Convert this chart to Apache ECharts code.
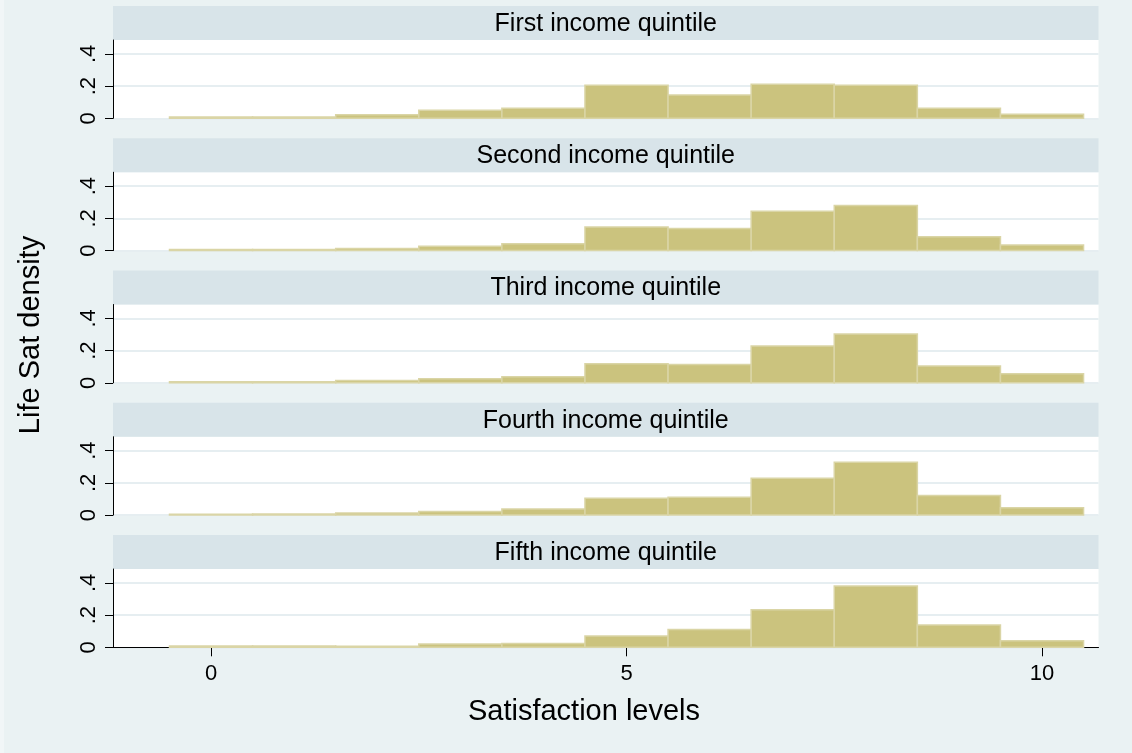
<!DOCTYPE html>
<html>
<head>
<meta charset="utf-8">
<script src="https://cdn.jsdelivr.net/npm/echarts@6/dist/echarts.min.js"></script>
<style>
html,body{margin:0;padding:0;background:#eaf2f3;}
#chart{width:1132px;height:753px;}
</style>
</head>
<body>
<div id="chart"></div>
<script>
// ---- data ----
const bins = [0, 1, 2, 3, 4, 5, 6, 7, 8, 9, 10];
const panelTitles = ["First income quintile", "Second income quintile", "Third income quintile", "Fourth income quintile", "Fifth income quintile"];
const q1 = [0.008, 0.008, 0.022, 0.050, 0.063, 0.205, 0.144, 0.211, 0.205, 0.062, 0.025];
const q2 = [0.006, 0.006, 0.012, 0.027, 0.042, 0.146, 0.137, 0.244, 0.280, 0.085, 0.035];
const q3 = [0.007, 0.007, 0.014, 0.025, 0.037, 0.118, 0.113, 0.229, 0.303, 0.105, 0.056];
const q4 = [0.005, 0.006, 0.012, 0.022, 0.037, 0.105, 0.110, 0.229, 0.328, 0.122, 0.045];
const q5 = [0.008, 0.008, 0.006, 0.021, 0.023, 0.070, 0.110, 0.233, 0.380, 0.139, 0.041];
const xTicks = [0, 5, 10];
const yTicks = [0, 0.2, 0.4];
const xTitle = "Satisfaction levels";
const yTitle = "Life Sat density";

// ---- layout ----
const series = [q1, q2, q3, q4, q5];
const FONT = "'Liberation Sans', Arial, sans-serif";
const plotLeft = 113, plotRight = 1098.5;
const pitch = 132.25, headTop0 = 6, headH = 34, plotH = 78.3;
const binW = 1;

const chart = echarts.init(document.getElementById('chart'), null, {renderer: 'canvas'});
const grids = [], xAxes = [], yAxes = [], seriesOpt = [], graphics = [];

series.forEach((vals, k) => {
  const headTop = headTop0 + pitch * k;
  const plotTop = headTop + headH;
  const isLast = k === series.length - 1;
  grids.push({left: plotLeft, width: plotRight - plotLeft, top: plotTop, height: plotH,
    show: true, backgroundColor: '#ffffff', borderWidth: 0});
  xAxes.push({
    type: 'value', gridIndex: k, min: -1.18, max: 10.68,
    show: isLast,
    axisLine: {show: true, onZero: false, lineStyle: {color: '#000', width: 1}},
    axisTick: {show: true, length: 9, customValues: xTicks, lineStyle: {color: '#000'}},
    axisLabel: {show: true, customValues: xTicks, margin: 16, fontSize: 22, color: '#000', fontFamily: FONT},
    splitLine: {show: false}
  });
  yAxes.push({
    type: 'value', gridIndex: k, min: 0, max: 0.486, interval: 0.2,
    axisLine: {show: true, onZero: false, lineStyle: {color: '#000', width: 1}},
    axisTick: {show: true, length: 8, customValues: yTicks, lineStyle: {color: '#000'}},
    axisLabel: {show: true, customValues: yTicks, rotate: 90, margin: 13, fontSize: 22, color: '#000', fontFamily: FONT,
      formatter: v => v === 0 ? '0' : String(+v.toFixed(1)).replace(/^0\./, '.')},
    splitLine: {show: true, lineStyle: {color: '#e6eef1', width: 2}}
  });
  seriesOpt.push({
    type: 'custom', xAxisIndex: k, yAxisIndex: k,
    data: bins.map((b, i) => [b, vals[i]]),
    encode: {x: 0, y: 1},
    renderItem: function (params, api) {
      const x = api.value(0), y = api.value(1);
      const p0 = api.coord([x - binW / 2, y]);
      const p1 = api.coord([x + binW / 2, 0]);
      return {type: 'rect',
        shape: {x: p0[0], y: p0[1], width: p1[0] - p0[0], height: p1[1] - p0[1]},
        style: {fill: '#cbc37e', stroke: '#dad5a6', lineWidth: 1.5}};
    }
  });
  graphics.push({type: 'rect', left: plotLeft, top: headTop, silent: true,
    shape: {width: plotRight - plotLeft, height: headH}, style: {fill: '#d8e4e9'}});
  graphics.push({type: 'text', x: (plotLeft + plotRight) / 2, y: headTop + headH / 2 + 1, silent: true,
    style: {text: panelTitles[k], fontSize: 25, fill: '#000', fontFamily: FONT, align: 'center', verticalAlign: 'middle'}});
});

graphics.push({type: 'text', x: 584, y: 712, silent: true,
  style: {text: xTitle, fontSize: 29, fill: '#000', fontFamily: FONT, align: 'center', verticalAlign: 'middle'}});
graphics.push({type: 'text', x: 31, y: 335, rotation: Math.PI / 2, silent: true,
  style: {text: yTitle, fontSize: 29, fill: '#000', fontFamily: FONT, align: 'center', verticalAlign: 'middle'}});
graphics.push({type: 'rect', left: 0, top: 0, silent: true, z: -1,
  shape: {width: 4, height: 753}, style: {fill: '#f1f6f7'}});

chart.setOption({
  backgroundColor: '#eaf2f3',
  animation: false,
  grid: grids, xAxis: xAxes, yAxis: yAxes, series: seriesOpt,
  graphic: graphics
});
</script>
</body>
</html>
